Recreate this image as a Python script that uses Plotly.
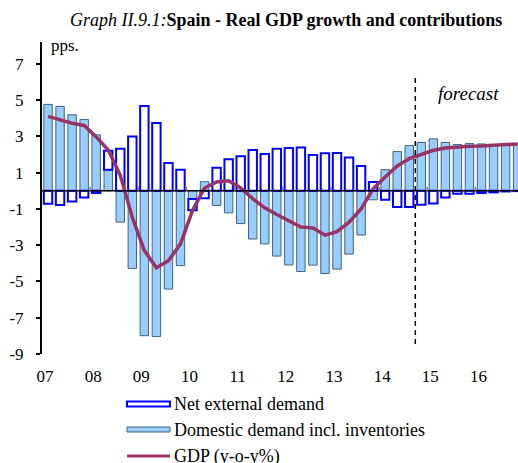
import plotly.graph_objects as go

# Quarterly contributions to real GDP growth, Spain 2007Q1-2016Q4 (pps.)
year_labels = ["07", "08", "09", "10", "11", "12", "13", "14", "15", "16"]
y_ticks = [7, 5, 3, 1, -1, -3, -5, -7, -9]

domestic_demand = [4.76, 4.65, 4.19, 3.93, 3.08, 1.16, -1.73, -4.28, -7.99, -8.04,
                   -5.42, -4.13, -0.45, 0.50, -0.81, -1.22, -1.81, -2.66, -2.93, -3.60,
                   -4.09, -4.45, -4.10, -4.56, -4.32, -3.49, -2.44, -0.50, 1.16, 2.16,
                   2.49, 2.66, 2.86, 2.66, 2.55, 2.60, 2.58, 2.55, 2.55, 2.58]

net_external = [-0.72, -0.79, -0.59, -0.37, -0.13, 1.05, 2.31, 2.99, 4.67, 3.73,
                1.53, 1.16, -0.62, -0.41, 1.27, 1.73, 1.90, 2.25, 2.03, 2.32,
                2.36, 2.38, 1.97, 2.07, 2.08, 1.83, 1.37, 0.48, -0.50, -0.90,
                -0.90, -0.77, -0.70, -0.37, -0.17, -0.17, -0.13, -0.09, -0.04, -0.02]

gdp_yoy = [4.10, 3.90, 3.72, 3.60, 2.97, 2.24, 0.85, -1.46, -3.30, -4.24,
           -3.86, -2.93, -1.09, 0.15, 0.48, 0.55, 0.15, -0.44, -0.94, -1.31,
           -1.64, -2.00, -2.05, -2.45, -2.25, -1.73, -1.00, 0.11, 0.76, 1.37,
           1.77, 1.99, 2.23, 2.36, 2.42, 2.45, 2.47, 2.50, 2.55, 2.58]

forecast_start = 30.5  # boundary between 2014Q3 and 2014Q4

quarters = list(range(len(gdp_yoy)))
SERIF = "Liberation Serif, Times New Roman, serif"

W, H = 518, 463
L, T, B = 42, 42, 109
PW, PH = W - L, H - T - B


def px_x(x):
    """Page x pixel -> paper fraction of the plot area."""
    return (x - L) / PW


def px_y(y):
    """Page y pixel -> paper fraction of the plot area."""
    return (H - B - y) / PH


fig = go.Figure()
fig.add_trace(go.Bar(
    x=quarters, y=domestic_demand, name="Domestic demand incl. inventories",
    marker=dict(color="#99CCFF", line=dict(color="#3F6480", width=1)),
    width=0.7,
))
fig.add_trace(go.Bar(
    x=quarters, y=net_external, name="Net external demand",
    marker=dict(color="white", line=dict(color="#0000FF", width=2)),
    width=0.7,
))
fig.add_trace(go.Scatter(
    x=quarters, y=gdp_yoy, name="GDP (y-o-y%)", mode="lines",
    line=dict(color="#993366", width=3.5),
))

shapes = []
# zero line
shapes.append(dict(type="line", xref="paper", yref="y", x0=0, x1=1, y0=0, y1=0,
                   line=dict(color="black", width=1.5), layer="above"))
# small year-boundary ticks on the zero line
for k in range(1, len(year_labels)):
    xb = 4 * k - 0.5
    shapes.append(dict(type="line", xref="x", yref="y", x0=xb, x1=xb, y0=0, y1=0.22,
                       line=dict(color="#808080", width=1.5), layer="above"))
# forecast separator
shapes.append(dict(type="line", xref="x", yref="y", x0=forecast_start, x1=forecast_start,
                   y0=-8.45, y1=6.25, line=dict(color="black", width=1.5, dash="5px,4px"),
                   layer="above"))

# legend drawn below the plot
legend_items = [
    ("Net external demand", "white", "#0000FF", 2, "box"),
    ("Domestic demand incl. inventories", "#99CCFF", "#3F6480", 1, "box"),
    ("GDP (y-o-y%)", None, "#993366", 3, "line"),
]
legend_y = [404, 429.5, 456]
annotations = []
for (label, fill, edge, lw, kind), yc in zip(legend_items, legend_y):
    if kind == "box":
        shapes.append(dict(type="rect", xref="paper", yref="paper",
                           x0=px_x(127), x1=px_x(170),
                           y0=px_y(yc + 2.5), y1=px_y(yc - 2.5),
                           fillcolor=fill, line=dict(color=edge, width=lw)))
    else:
        shapes.append(dict(type="line", xref="paper", yref="paper",
                           x0=px_x(127), x1=px_x(170),
                           y0=px_y(yc), y1=px_y(yc), line=dict(color=edge, width=lw)))
    annotations.append(dict(text=label, xref="paper", yref="paper",
                            x=px_x(172), y=px_y(yc), xanchor="left", yanchor="middle",
                            showarrow=False, font=dict(family=SERIF, size=18, color="black")))

annotations.append(dict(text="<i>Graph II.9.1:</i><b>Spain - Real GDP growth and contributions</b>",
                        xref="paper", yref="paper", x=px_x(286), y=px_y(20),
                        xanchor="center", yanchor="middle", showarrow=False,
                        font=dict(family=SERIF, size=18, color="black")))
annotations.append(dict(text="pps.", xref="paper", yref="paper", x=px_x(49), y=px_y(46),
                        xanchor="left", yanchor="middle", showarrow=False,
                        font=dict(family=SERIF, size=17, color="black")))
annotations.append(dict(text="<i>forecast</i>", xref="x", yref="y", x=34.9, y=5.35,
                        xanchor="center", yanchor="middle", showarrow=False,
                        font=dict(family=SERIF, size=19, color="black")))

fig.update_layout(
    width=W, height=H,
    margin=dict(l=L, r=0, t=T, b=B),
    paper_bgcolor="white", plot_bgcolor="white",
    barmode="relative", bargap=0.3,
    showlegend=False,
    shapes=shapes, annotations=annotations,
    font=dict(family=SERIF, size=17, color="black"),
    xaxis=dict(range=[-0.5, 39.03], tickvals=[4 * k - 0.25 for k in range(len(year_labels))],
               ticktext=year_labels, showgrid=False, zeroline=False, showline=False,
               ticks="", ticklabelstandoff=10, fixedrange=True),
    yaxis=dict(range=[-9, 8.2], tickvals=y_ticks, ticktext=[str(v) for v in y_ticks],
               showgrid=False, zeroline=False, showline=True, linecolor="black", linewidth=2,
               ticks="outside", ticklen=4, tickwidth=1.5, tickcolor="black",
               ticklabelstandoff=9, fixedrange=True),
)

fig.write_html("out.html")
